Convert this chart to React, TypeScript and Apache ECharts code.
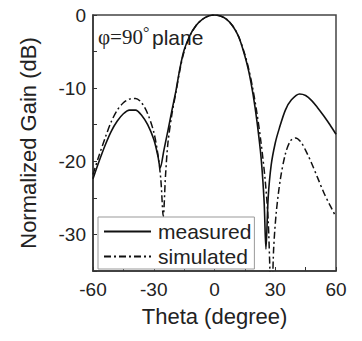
import React, { useEffect, useRef } from "react";
import * as echarts from "echarts";

const measuredTheta = [-60, -57, -54, -51, -48, -45, -42, -39, -36, -33, -30, -28, -26.8, -25, -23, -21, -19, -17, -15, -12, -9, -6, -3, 0, 3, 6, 9, 12, 15, 17, 19, 21, 23, 24.5, 25.4, 26.5, 28, 30, 32, 35, 38, 42, 45, 48, 51, 54, 57, 60];
const measuredGain = [-22.4, -20.0, -17.8, -15.9, -14.5, -13.5, -13.0, -13.0, -13.7, -15.0, -17.0, -19.2, -20.9, -18.5, -15.8, -13.0, -10.3, -7.2, -4.8, -2.7, -1.4, -0.6, -0.15, 0, -0.15, -0.6, -1.5, -3.0, -5.6, -7.8, -10.8, -14.6, -19.5, -25.5, -32, -25, -20.5, -17.5, -15.5, -13.0, -11.6, -10.8, -11.0, -11.7, -12.7, -13.8, -15.0, -16.3];

const simulatedTheta = [-60, -57, -54, -51, -48, -45, -42, -39, -36, -33, -30, -28, -26.5, -25.3, -24.2, -23, -21, -19, -17, -15, -12, -9, -6, -3, 0, 3, 6, 9, 12, 15, 17, 19, 21, 23, 25, 26.5, 28.2, 29.2, 30.5, 32.5, 35, 37.5, 40, 42.5, 45, 48, 51, 54, 57, 60];
const simulatedGain = [-21.8, -19.2, -16.8, -14.6, -13.0, -12.0, -11.5, -11.4, -12.0, -13.5, -16.0, -19.0, -22.5, -27.5, -22.0, -17.5, -13.5, -10.5, -7.4, -5.0, -2.8, -1.4, -0.6, -0.15, 0, -0.15, -0.6, -1.5, -3.0, -5.4, -7.5, -10.2, -13.5, -17.5, -22.5, -28, -40, -32, -27, -22.5, -19, -17.2, -16.8, -17.3, -18.5, -20.3, -22.3, -24.3, -26.0, -27.6];

const xTickLabels = [-60, -30, 0, 30, 60];
const yTickLabels = [0, -10, -20, -30];

const SANS = "'Liberation Sans', Arial, sans-serif";
const SERIF = "'Liberation Serif', 'Times New Roman', serif";

export default function App() {
  const ref = useRef<HTMLDivElement>(null);
  useEffect(() => {
    if (!ref.current) return;
    const chart = echarts.init(ref.current, undefined, { renderer: "svg" });
    const pair = (xs: number[], ys: number[]) => xs.map((x, i) => [x, ys[i]]);
    chart.setOption({
      animation: false,
      backgroundColor: "#ffffff",
      grid: { left: 93, right: 26, top: 15, bottom: 70, show: true, borderColor: "#444", borderWidth: 1.5, backgroundColor: "transparent" },
      xAxis: {
        type: "value",
        min: -60,
        max: 60,
        interval: 15,
        name: "Theta (degree)",
        nameLocation: "middle",
        nameGap: 34,
        nameTextStyle: { fontSize: 22, fontFamily: SANS, color: "#222" },
        axisLine: { onZero: false, lineStyle: { color: "#333", width: 1.5 } },
        axisTick: { inside: true, length: 4, lineStyle: { color: "#333" } },
        axisLabel: {
          fontSize: 19, fontFamily: SANS, color: "#222", margin: 9,
          formatter: (v: number) => (xTickLabels.includes(v) ? String(v) : ""),
        },
        splitLine: { show: false },
      },
      yAxis: {
        type: "value",
        min: -35,
        max: 0,
        interval: 5,
        name: "Normalized Gain (dB)",
        nameLocation: "middle",
        nameGap: 54,
        nameTextStyle: { fontSize: 22, fontFamily: SANS, color: "#222" },
        axisLine: { show: true, onZero: false, lineStyle: { color: "#333", width: 1.5 } },
        axisTick: { inside: true, length: 4, lineStyle: { color: "#333" } },
        axisLabel: {
          fontSize: 19, fontFamily: SANS, color: "#222", margin: 7,
          formatter: (v: number) => (yTickLabels.includes(v) ? String(v) : ""),
        },
        splitLine: { show: false },
      },
      legend: {
        orient: "vertical",
        left: 98,
        top: 217,
        padding: [4, 3, 2, 5],
        itemGap: 4,
        itemWidth: 47,
        itemHeight: 14,
        backgroundColor: "#fff",
        borderColor: "#999",
        borderWidth: 1,
        itemStyle: { opacity: 0 },
        textStyle: { fontSize: 21, fontFamily: SANS, color: "#222", padding: [0, 0, 0, 2] },
        data: ["measured", "simulated"],
      },
      graphic: [
        { type: "text", left: 98, top: 26, style: { text: "φ=90", font: `21px ${SERIF}`, fill: "#222" } },
        { type: "text", left: 143, top: 24, style: { text: "°", font: `16px ${SERIF}`, fill: "#222" } },
        { type: "text", left: 152, top: 27, style: { text: "plane", font: `21px ${SANS}`, fill: "#222" } },
      ],
      series: [
        {
          name: "measured",
          type: "line",
          data: pair(measuredTheta, measuredGain),
          showSymbol: false,
          symbol: "none",
          smooth: 0.3,
          clip: true,
          lineStyle: { color: "#111", width: 1.6, type: "solid" },
          itemStyle: { color: "#111" },
        },
        {
          name: "simulated",
          type: "line",
          data: pair(simulatedTheta, simulatedGain),
          showSymbol: false,
          symbol: "none",
          smooth: 0.3,
          clip: true,
          lineStyle: { color: "#111", width: 1.5, type: [7, 3, 2, 3] },
          itemStyle: { color: "#111" },
        },
      ],
    });
    return () => chart.dispose();
  }, []);
  return <div ref={ref} style={{ width: 362, height: 341, position: "absolute", left: 0, top: 0 }} />;
}
